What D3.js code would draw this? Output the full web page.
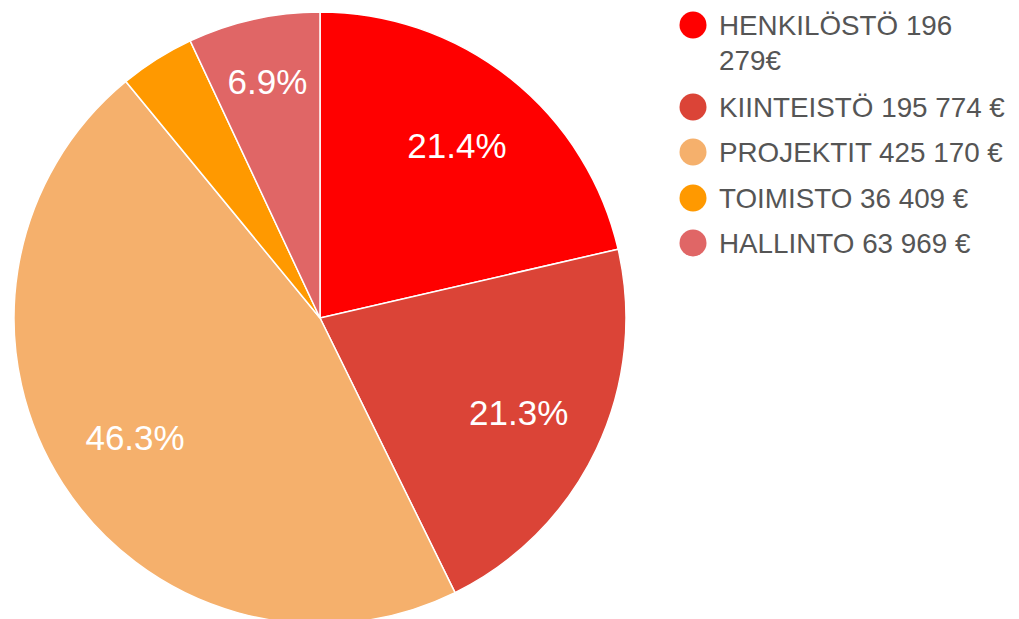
<!DOCTYPE html>
<html>
<head>
<meta charset="utf-8">
<script src="https://cdn.jsdelivr.net/npm/d3@7"></script>
<style>
  body { margin: 0; background: #fff; }
  svg { display: block; font-family: "Liberation Sans", Arial, sans-serif; }
</style>
</head>
<body>
<svg id="chart" width="1019" height="619"></svg>
<script>
const categories = ["HENKILÖSTÖ", "KIINTEISTÖ", "PROJEKTIT", "TOIMISTO", "HALLINTO"];
const values = [196279, 195774, 425170, 36409, 63969];
const legendLabels = ["HENKILÖSTÖ 196 279€", "KIINTEISTÖ 195 774 €", "PROJEKTIT 425 170 €", "TOIMISTO 36 409 €", "HALLINTO 63 969 €"];
const percentLabels = ["21.4%", "21.3%", "46.3%", "", "6.9%"];
const colors = ["#ff0000", "#db4437", "#f5b06c", "#ff9900", "#e06666"];

const svg = d3.select("#chart");
const cx = 320, cy = 318, radius = 306;

const pie = d3.pie().sort(null).value(d => d.value);
const arcs = pie(categories.map((c, i) => ({ name: c, value: values[i], i })));

const arc = d3.arc().innerRadius(0).outerRadius(radius);

const g = svg.append("g").attr("transform", `translate(${cx},${cy})`);

g.selectAll("path")
  .data(arcs)
  .join("path")
  .attr("d", arc)
  .attr("fill", d => colors[d.data.i])
  .attr("stroke", "#fff")
  .attr("stroke-width", 1.5);

// small slices get their label pushed a bit further out
const labelArc = d3.arc().innerRadius(0).outerRadius(440);
const smallArc = d3.arc().innerRadius(0).outerRadius(484);

g.selectAll("text.pct")
  .data(arcs)
  .join("text")
  .attr("class", "pct")
  .attr("transform", d => {
    const share = d.value / d3.sum(values);
    const c = (share < 0.1 ? smallArc : labelArc).centroid(d);
    return `translate(${c})`;
  })
  .attr("text-anchor", "middle")
  .attr("dy", "0.36em")
  .attr("fill", "#fff")
  .style("font-size", "35px")
  .text(d => percentLabels[d.data.i]);

// legend
const legend = svg.append("g").attr("transform", "translate(693,0)");
const rowY = [25, 107, 152, 198, 243];

const rows = legend.selectAll("g.row")
  .data(legendLabels)
  .join("g")
  .attr("class", "row")
  .attr("transform", (d, i) => `translate(0,${rowY[i]})`);

rows.append("circle")
  .attr("r", 13.5)
  .attr("fill", (d, i) => colors[i]);

rows.append("text")
  .attr("x", 26)
  .attr("y", 10)
  .attr("fill", "#555")
  .style("font-size", "27.8px")
  .each(function(d) {
    const text = d3.select(this);
    const words = d.split(" ");
    let line = [];
    let tspan = text.append("tspan").attr("x", 26);
    words.forEach(w => {
      line.push(w);
      tspan.text(line.join(" "));
      if (tspan.node().getComputedTextLength() > 292 && line.length > 1) {
        line.pop();
        tspan.text(line.join(" "));
        line = [w];
        tspan = text.append("tspan").attr("x", 26).attr("dy", 35).text(w);
      }
    });
  });
</script>
</body>
</html>
